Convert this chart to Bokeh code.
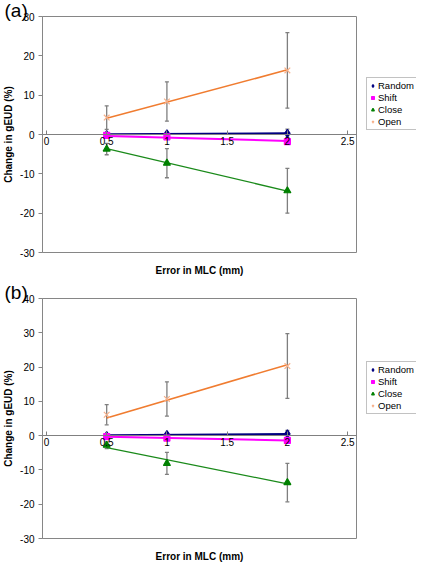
import numpy as np
from bokeh.plotting import figure
from bokeh.layouts import column, row
from bokeh.models import (Range1d, FixedTicker, Whisker, TeeHead, ColumnDataSource,
                          Legend, LegendItem, LinearAxis)
from bokeh.embed import file_html
from bokeh.resources import INLINE

# ---------------- data ----------------
x_mm = [0.5, 1.0, 2.0]
x_ticks = [0, 0.5, 1, 1.5, 2, 2.5]
x_tick_labels = ["0", "0.5", "1", "1.5", "2", "2.5"]
series_names = ["Random", "Shift", "Close", "Open"]

# panel (a)
random_a = [0.0, 0.2, 0.3]
random_a_err = [0.3, 0.4, 1.05]
shift_a = [-0.2, -0.6, -1.8]
shift_a_err = [0.3, 0.4, 0.5]
close_a = [-3.7, -7.3, -14.3]
close_a_err = [1.45, 3.7, 5.7]
open_a = [4.3, 8.4, 16.3]
open_a_err = [3.0, 5.0, 9.6]
y_ticks_a = [-30, -20, -10, 0, 10, 20, 30]
y_tick_labels_a = ["-30", "-20", "-10", "0", "10", "20", "30"]

# panel (b)
random_b = [0.0, 0.3, 0.5]
random_b_err = [0.3, 0.4, 1.0]
shift_b = [-0.3, -0.7, -1.4]
shift_b_err = [0.3, 0.4, 0.5]
close_b = [-2.8, -8.1, -13.7]
close_b_err = [1.0, 3.2, 5.6]
open_b = [6.1, 10.7, 20.3]
open_b_err = [2.95, 5.0, 9.45]
y_ticks_b = [-30, -20, -10, 0, 10, 20, 30, 40]
y_tick_labels_b = ["-30", "-20", "-10", "0", "10", "20", "30", "40"]

x_title = "Error in MLC (mm)"
y_title = "Change in gEUD (%)"

# ---------------- styles ----------------
FONT = "Liberation Sans"
GRAY = "#868686"
ERR = "#7f7f7f"
STYLE = {
    "Random": dict(marker="diamond", size=8, fill="#000080", line="#000080", lw=2.0, lc="#000080"),
    "Shift": dict(marker="square", size=6, fill="#ff00ff", line="#ff00ff", lw=2.0, lc="#ff00ff"),
    "Close": dict(marker="triangle", size=7, fill="#008000", line="#008000", lw=1.3, lc="#1a8a1a"),
    "Open": dict(marker="x", size=8, fill=None, line="#f6b08a", lw=1.6, lc="#f07c30"),
}

MAIN_W = 358
LEG_FIG_W = 58
BORDER_L = 38
BORDER_R = 2
BORDER_T = 16
BORDER_B = 30
LEG_H = 51
PAD_L_PX = 4      # room so the "0" tick label is not cut by the frame
PAD_R_PX = 9      # room so the "2.5" tick label is not cut by the frame
FRAME_W = MAIN_W - BORDER_L - BORDER_R


def style_text_axis(ax):
    ax.major_label_text_font = FONT
    ax.major_label_text_font_size = "10px"
    ax.major_label_text_color = "black"
    ax.axis_label_text_font = FONT
    ax.axis_label_text_font_size = "10px"
    ax.axis_label_text_font_style = "bold"
    ax.axis_label_text_color = "black"
    ax.minor_tick_line_color = None
    ax.minor_tick_out = 0
    ax.minor_tick_in = 0


def make_panel(tag, values, errors, yticks, ylabels, height):
    ppu = (FRAME_W - PAD_L_PX - PAD_R_PX) / (x_ticks[-1] - x_ticks[0])
    p = figure(width=MAIN_W, height=height,
               x_range=Range1d(x_ticks[0] - PAD_L_PX / ppu, x_ticks[-1] + PAD_R_PX / ppu),
               y_range=Range1d(yticks[0], yticks[-1]),
               output_backend="svg", toolbar_location=None,
               min_border_left=BORDER_L, min_border_right=BORDER_R,
               min_border_top=BORDER_T, min_border_bottom=BORDER_B)
    p.grid.visible = False
    p.outline_line_color = GRAY
    p.outline_line_width = 1
    p.background_fill_color = "white"
    p.border_fill_color = "white"

    # panel tag "(a)" / "(b)" at the top-left corner
    p.title.text = tag
    p.title.align = "left"
    p.title.offset = -BORDER_L
    p.title.standoff = -8
    p.title.text_font = FONT
    p.title.text_font_size = "19px"
    p.title.text_font_style = "normal"
    p.title.text_color = "black"

    # y axis
    ya = p.yaxis[0]
    style_text_axis(ya)
    ya.ticker = FixedTicker(ticks=yticks)
    ya.major_label_overrides = dict(zip(yticks, ylabels))
    ya.major_tick_out = 4
    ya.major_tick_in = 0
    ya.major_tick_line_color = GRAY
    ya.axis_line_color = GRAY
    ya.major_label_standoff = 4
    ya.axis_label = y_title
    ya.axis_label_standoff = 3

    # x axis crossing at y = 0
    xa = p.xaxis[0]
    style_text_axis(xa)
    xa.fixed_location = 0
    xa.ticker = FixedTicker(ticks=x_ticks)
    xa.major_label_overrides = dict(zip(x_ticks, x_tick_labels))
    xa.axis_line_color = "#808080"
    xa.major_tick_line_color = "#808080"
    xa.major_tick_in = 4
    xa.major_tick_out = 0
    xa.major_label_standoff = 2

    # x axis title below the frame
    xt = LinearAxis(ticker=FixedTicker(ticks=[]))
    style_text_axis(xt)
    xt.axis_line_color = None
    xt.major_tick_line_color = None
    xt.major_tick_in = 0
    xt.major_tick_out = 0
    xt.major_label_standoff = 0
    xt.axis_label = x_title
    xt.axis_label_standoff = 12
    p.add_layout(xt, "below")

    # separate small figure holding the legend, to the right of the plot
    # (its ranges keep the data itself out of view; only the legend shows)
    q = figure(width=LEG_FIG_W, height=height, x_range=Range1d(-3, -2), y_range=Range1d(-3, -2),
               x_axis_type=None, y_axis_type=None,
               output_backend="svg", toolbar_location=None,
               min_border_left=0, min_border_right=0, min_border_top=0, min_border_bottom=0)
    q.grid.visible = False
    q.outline_line_color = None
    q.background_fill_color = "white"
    q.border_fill_color = "white"

    items = []
    xs = np.array(x_mm)
    for name in series_names:
        st = STYLE[name]
        ys = np.array(values[name])
        err = np.array(errors[name])
        # linear trendline forced through the origin
        slope = float(np.sum(xs * ys) / np.sum(xs * xs))
        lx = [float(xs.min()), float(xs.max())]
        p.line(lx, [slope * v for v in lx], line_color=st["lc"], line_width=st["lw"])
        src = ColumnDataSource(dict(x=x_mm, y=values[name],
                                    upper=list(ys + err), lower=list(ys - err)))
        p.add_layout(Whisker(base="x", upper="upper", lower="lower", source=src,
                             line_color=ERR, line_width=1.3,
                             upper_head=TeeHead(size=4, line_color=ERR, line_width=1.3),
                             lower_head=TeeHead(size=4, line_color=ERR, line_width=1.3)))
        p.scatter("x", "y", source=src, marker=st["marker"], size=st["size"],
                  fill_color=st["fill"], line_color=st["line"], line_width=1.2)
        lr = q.scatter("x", "y", source=src, marker=st["marker"], size=st["size"] - 1,
                       fill_color=st["fill"], line_color=st["line"], line_width=1.2)
        items.append(LegendItem(label=name, renderers=[lr]))

    leg_bottom = (height - BORDER_T + BORDER_B) / 2 - LEG_H / 2
    leg = Legend(items=items, location=(8, leg_bottom),
                 label_text_font=FONT, label_text_font_size="9.5px", label_text_color="black",
                 glyph_width=7, glyph_height=11, label_height=11, label_standoff=2,
                 spacing=1, padding=2, margin=0,
                 border_line_color=GRAY, border_line_width=1,
                 background_fill_color="white", background_fill_alpha=1)
    q.add_layout(leg)
    return row(p, q, spacing=0)


vals_a = {"Random": random_a, "Shift": shift_a, "Close": close_a, "Open": open_a}
errs_a = {"Random": random_a_err, "Shift": shift_a_err, "Close": close_a_err, "Open": open_a_err}
vals_b = {"Random": random_b, "Shift": shift_b, "Close": close_b, "Open": open_b}
errs_b = {"Random": random_b_err, "Shift": shift_b_err, "Close": close_b_err, "Open": open_b_err}

ra = make_panel("(a)", vals_a, errs_a, y_ticks_a, y_tick_labels_a, 282)
rb = make_panel("(b)", vals_b, errs_b, y_ticks_b, y_tick_labels_b, 286)

layout = column(ra, rb, spacing=0)
open("out.html", "w").write(file_html(layout, INLINE))
